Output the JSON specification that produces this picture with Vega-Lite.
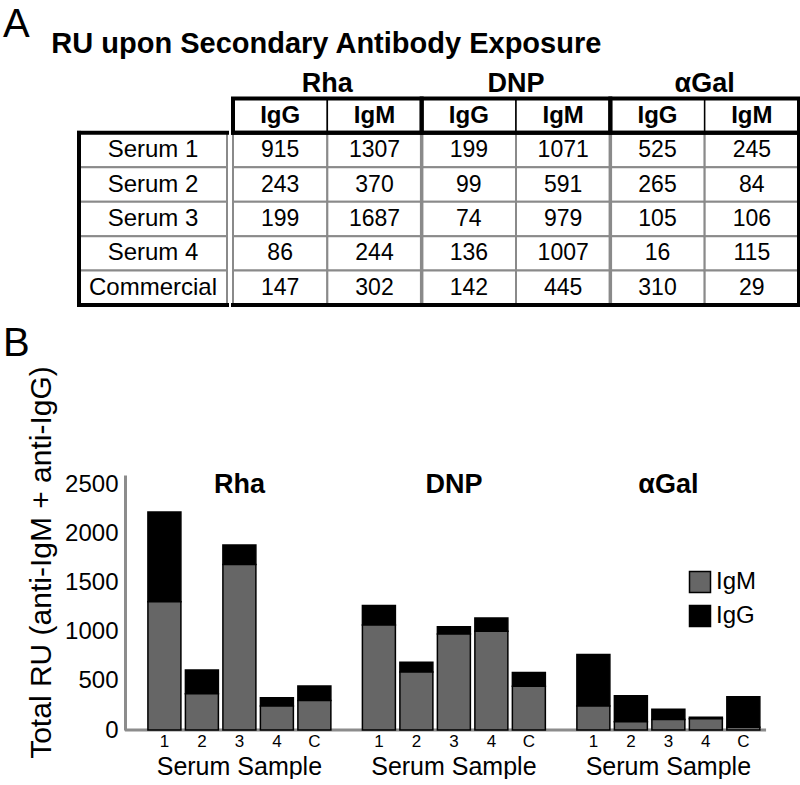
{
  "$schema": "https://vega.github.io/schema/vega-lite/v6.json",
  "padding": {"left": 3, "top": 5, "right": 0, "bottom": 0},
  "config": {"font": "Liberation Sans", "view": {"stroke": null}},
  "datasets": {
    "ru": [
      {"antigen": "Rha", "iso": "IgG", "col": "Rha IgG", "serum": "Serum 1", "short": "1", "value": 915},
      {"antigen": "Rha", "iso": "IgG", "col": "Rha IgG", "serum": "Serum 2", "short": "2", "value": 243},
      {"antigen": "Rha", "iso": "IgG", "col": "Rha IgG", "serum": "Serum 3", "short": "3", "value": 199},
      {"antigen": "Rha", "iso": "IgG", "col": "Rha IgG", "serum": "Serum 4", "short": "4", "value": 86},
      {"antigen": "Rha", "iso": "IgG", "col": "Rha IgG", "serum": "Commercial", "short": "C", "value": 147},
      {"antigen": "Rha", "iso": "IgM", "col": "Rha IgM", "serum": "Serum 1", "short": "1", "value": 1307},
      {"antigen": "Rha", "iso": "IgM", "col": "Rha IgM", "serum": "Serum 2", "short": "2", "value": 370},
      {"antigen": "Rha", "iso": "IgM", "col": "Rha IgM", "serum": "Serum 3", "short": "3", "value": 1687},
      {"antigen": "Rha", "iso": "IgM", "col": "Rha IgM", "serum": "Serum 4", "short": "4", "value": 244},
      {"antigen": "Rha", "iso": "IgM", "col": "Rha IgM", "serum": "Commercial", "short": "C", "value": 302},
      {"antigen": "DNP", "iso": "IgG", "col": "DNP IgG", "serum": "Serum 1", "short": "1", "value": 199},
      {"antigen": "DNP", "iso": "IgG", "col": "DNP IgG", "serum": "Serum 2", "short": "2", "value": 99},
      {"antigen": "DNP", "iso": "IgG", "col": "DNP IgG", "serum": "Serum 3", "short": "3", "value": 74},
      {"antigen": "DNP", "iso": "IgG", "col": "DNP IgG", "serum": "Serum 4", "short": "4", "value": 136},
      {"antigen": "DNP", "iso": "IgG", "col": "DNP IgG", "serum": "Commercial", "short": "C", "value": 142},
      {"antigen": "DNP", "iso": "IgM", "col": "DNP IgM", "serum": "Serum 1", "short": "1", "value": 1071},
      {"antigen": "DNP", "iso": "IgM", "col": "DNP IgM", "serum": "Serum 2", "short": "2", "value": 591},
      {"antigen": "DNP", "iso": "IgM", "col": "DNP IgM", "serum": "Serum 3", "short": "3", "value": 979},
      {"antigen": "DNP", "iso": "IgM", "col": "DNP IgM", "serum": "Serum 4", "short": "4", "value": 1007},
      {"antigen": "DNP", "iso": "IgM", "col": "DNP IgM", "serum": "Commercial", "short": "C", "value": 445},
      {"antigen": "αGal", "iso": "IgG", "col": "αGal IgG", "serum": "Serum 1", "short": "1", "value": 525},
      {"antigen": "αGal", "iso": "IgG", "col": "αGal IgG", "serum": "Serum 2", "short": "2", "value": 265},
      {"antigen": "αGal", "iso": "IgG", "col": "αGal IgG", "serum": "Serum 3", "short": "3", "value": 105},
      {"antigen": "αGal", "iso": "IgG", "col": "αGal IgG", "serum": "Serum 4", "short": "4", "value": 16},
      {"antigen": "αGal", "iso": "IgG", "col": "αGal IgG", "serum": "Commercial", "short": "C", "value": 310},
      {"antigen": "αGal", "iso": "IgM", "col": "αGal IgM", "serum": "Serum 1", "short": "1", "value": 245},
      {"antigen": "αGal", "iso": "IgM", "col": "αGal IgM", "serum": "Serum 2", "short": "2", "value": 84},
      {"antigen": "αGal", "iso": "IgM", "col": "αGal IgM", "serum": "Serum 3", "short": "3", "value": 106},
      {"antigen": "αGal", "iso": "IgM", "col": "αGal IgM", "serum": "Serum 4", "short": "4", "value": 115},
      {"antigen": "αGal", "iso": "IgM", "col": "αGal IgM", "serum": "Commercial", "short": "C", "value": 29}
    ],
    "one": [{"k": 1}]
  },
  "resolve": {"scale": {"x": "independent", "y": "independent", "color": "independent"}},
  "spacing": 15,
  "vconcat": [
    {
      "title": {
        "text": "A",
        "subtitle": "\u200b\u00a0\u00a0\u00a0\u00a0\u00a0\u00a0RU upon Secondary Antibody Exposure",
        "anchor": "start", "frame": "group", "dx": -76,
        "fontSize": 40, "fontWeight": "normal", "color": "black",
        "subtitleFontSize": 29, "subtitleFontWeight": "bold", "subtitleColor": "black",
        "subtitlePadding": -15, "offset": 5
      },
      "spacing": 0,
      "resolve": {"scale": {"x": "independent", "y": "independent"}},
      "hconcat": [
        {
          "width": 148, "height": 241,
          "data": {"name": "ru"},
          "layer": [
            {
              "transform": [{"filter": "datum.col === 'Rha IgG'"}],
              "mark": {"type": "rect", "fill": "white", "stroke": "#8a8a8a", "strokeWidth": 2},
              "encoding": {
                "x": {"datum": "L", "type": "nominal", "scale": {"paddingInner": 0, "paddingOuter": 0}, "axis": null},
                "y": {"field": "serum", "type": "nominal", "scale": {"domain": ["grp", "sub", "Serum 1", "Serum 2", "Serum 3", "Serum 4", "Commercial"], "paddingInner": 0, "paddingOuter": 0}, "axis": null}
              }
            },
            {
              "data": {"name": "one"},
              "mark": {"type": "rule", "color": "black", "strokeWidth": 4, "strokeCap": "square"},
              "encoding": {"y": {"datum": "Serum 1", "type": "nominal", "bandPosition": 0}}
            },
            {
              "data": {"name": "one"},
              "mark": {"type": "rule", "color": "black", "strokeWidth": 4, "strokeCap": "square"},
              "encoding": {"y": {"datum": "Commercial", "type": "nominal", "bandPosition": 1}}
            },
            {
              "data": {"name": "one"},
              "mark": {"type": "rule", "color": "black", "strokeWidth": 4, "strokeCap": "square"},
              "encoding": {
                "x": {"datum": "L", "type": "nominal", "bandPosition": 0},
                "y": {"datum": "Serum 1", "type": "nominal", "bandPosition": 0},
                "y2": {"datum": "Commercial", "bandPosition": 1}
              }
            },
            {
              "transform": [{"filter": "datum.col === 'Rha IgG'"}],
              "mark": {"type": "text", "fontSize": 24, "baseline": "middle", "color": "black"},
              "encoding": {
                "x": {"datum": "L", "type": "nominal"},
                "y": {"field": "serum", "type": "nominal"},
                "text": {"field": "serum"}
              }
            }
          ]
        },
        {
          "width": 566, "height": 241,
          "data": {"name": "ru"},
          "layer": [
            {
              "mark": {"type": "rect", "fill": "white", "stroke": "#8a8a8a", "strokeWidth": 2},
              "encoding": {
                "x": {"field": "col", "type": "nominal", "scale": {"domain": ["Rha IgG", "Rha IgM", "DNP IgG", "DNP IgM", "αGal IgG", "αGal IgM"], "paddingInner": 0, "paddingOuter": 0}, "axis": null},
                "y": {"field": "serum", "type": "nominal", "scale": {"domain": ["grp", "sub", "Serum 1", "Serum 2", "Serum 3", "Serum 4", "Commercial"], "paddingInner": 0, "paddingOuter": 0}, "axis": null}
              }
            },
            {
              "transform": [{"filter": "datum.serum === 'Serum 1'"}],
              "mark": {"type": "rect", "fill": "white", "stroke": "black", "strokeWidth": 1.5},
              "encoding": {
                "x": {"field": "col", "type": "nominal"},
                "y": {"datum": "sub", "type": "nominal"}
              }
            },
            {
              "transform": [{"filter": "datum.serum === 'Serum 1' && datum.iso === 'IgG' && datum.antigen !== 'Rha'"}],
              "mark": {"type": "rule", "color": "#8a8a8a", "strokeWidth": 3.5},
              "encoding": {
                "x": {"field": "col", "type": "nominal", "bandPosition": 0},
                "y": {"datum": "Serum 1", "type": "nominal", "bandPosition": 0},
                "y2": {"datum": "Commercial", "bandPosition": 1}
              }
            },
            {
              "transform": [{"filter": "datum.serum === 'Serum 1' && datum.iso === 'IgG'"}],
              "mark": {"type": "rect", "fillOpacity": 0, "stroke": "black", "strokeWidth": 4},
              "encoding": {
                "x": {"field": "col", "type": "nominal", "bandPosition": 0},
                "x2": {"field": "col", "bandPosition": 2},
                "y": {"datum": "sub", "type": "nominal"}
              }
            },
            {
              "data": {"name": "one"},
              "mark": {"type": "rule", "color": "black", "strokeWidth": 4, "strokeCap": "square"},
              "encoding": {"y": {"datum": "Serum 1", "type": "nominal", "bandPosition": 0}}
            },
            {
              "data": {"name": "one"},
              "mark": {"type": "rule", "color": "black", "strokeWidth": 4, "strokeCap": "square"},
              "encoding": {"y": {"datum": "Commercial", "type": "nominal", "bandPosition": 1}}
            },
            {
              "data": {"name": "one"},
              "mark": {"type": "rule", "color": "black", "strokeWidth": 4, "strokeCap": "square"},
              "encoding": {
                "x": {"datum": "αGal IgM", "type": "nominal", "bandPosition": 1},
                "y": {"datum": "Serum 1", "type": "nominal", "bandPosition": 0},
                "y2": {"datum": "Commercial", "bandPosition": 1}
              }
            },
            {
              "transform": [{"filter": "datum.serum === 'Serum 1' && datum.iso === 'IgG'"}],
              "mark": {"type": "text", "fontSize": 27, "fontWeight": "bold", "baseline": "middle", "dy": 3, "color": "black"},
              "encoding": {
                "x": {"field": "col", "type": "nominal", "bandPosition": 1},
                "y": {"datum": "grp", "type": "nominal"},
                "text": {"field": "antigen"}
              }
            },
            {
              "transform": [{"filter": "datum.serum === 'Serum 1'"}],
              "mark": {"type": "text", "fontSize": 24, "fontWeight": "bold", "baseline": "middle", "color": "black"},
              "encoding": {
                "x": {"field": "col", "type": "nominal"},
                "y": {"datum": "sub", "type": "nominal"},
                "text": {"field": "iso"}
              }
            },
            {
              "mark": {"type": "text", "fontSize": 23, "baseline": "middle", "color": "black"},
              "encoding": {
                "x": {"field": "col", "type": "nominal"},
                "y": {"field": "serum", "type": "nominal"},
                "text": {"field": "value", "type": "quantitative"}
              }
            }
          ]
        }
      ]
    },
    {
      "width": 687, "height": 255,
      "title": {"text": "B", "anchor": "start", "frame": "group", "dx": -76, "fontSize": 40, "fontWeight": "normal", "color": "black", "offset": 2},
      "data": {"name": "ru"},
      "encoding": {
        "x": {
          "field": "antigen", "type": "nominal", "sort": ["Rha", "DNP", "αGal"],
          "scale": {"paddingInner": 0.147, "paddingOuter": 0.175, "align": 0.918},
          "axis": {"title": null, "labelExpr": "'Serum Sample'", "ticks": false, "domain": false, "labelFontSize": 25, "labelPadding": 24, "labelColor": "black", "labelAngle": 0}
        }
      },
      "layer": [
        {
          "data": {"name": "one"},
          "mark": {"type": "rule", "color": "#8c8c8c", "strokeWidth": 3},
          "encoding": {
            "x": {"datum": "Rha", "type": "nominal", "bandPosition": -0.126},
            "x2": {"datum": "αGal", "bandPosition": 1.034},
            "y": {"datum": 0, "type": "quantitative"}
          }
        },
        {
          "mark": {"type": "bar", "stroke": "black", "strokeWidth": 1.5},
          "encoding": {
            "xOffset": {"field": "short", "type": "nominal", "sort": ["1", "2", "3", "4", "C"], "scale": {"paddingInner": 0.12, "paddingOuter": 0}},
            "y": {
              "field": "value", "type": "quantitative", "stack": "zero",
              "scale": {"domain": [0, 2500]},
              "axis": {"title": "Total RU (anti-IgM + anti-IgG)", "offset": -46, "titleFontSize": 30, "titleFontWeight": "normal", "titleColor": "black", "titleX": -75, "titleY": 87, "titleBaseline": "alphabetic", "values": [0, 500, 1000, 1500, 2000, 2500], "format": "d", "ticks": false, "grid": false, "labelFontSize": 24, "labelPadding": 7, "labelColor": "black", "domainColor": "#8c8c8c", "domainWidth": 3}
            },
            "color": {
              "field": "iso", "type": "nominal",
              "scale": {"domain": ["IgM", "IgG"], "range": ["#666666", "#000000"]},
              "legend": {"title": null, "orient": "none", "legendX": 609, "legendY": 95, "symbolType": "square", "symbolSize": 441, "symbolStrokeColor": "black", "symbolStrokeWidth": 1.5, "symbolOpacity": 1, "labelFontSize": 24, "labelColor": "black", "rowPadding": 6, "labelOffset": 4}
            },
            "order": {"field": "iso", "sort": "descending"}
          }
        },
        {
          "transform": [{"filter": "datum.iso === 'IgG'"}],
          "mark": {"type": "text", "baseline": "top", "dy": 4, "fontSize": 17, "color": "black"},
          "encoding": {
            "xOffset": {"field": "short", "type": "nominal", "sort": ["1", "2", "3", "4", "C"]},
            "y": {"datum": 0},
            "text": {"field": "short"}
          }
        },
        {
          "transform": [{"filter": "datum.iso === 'IgG' && datum.short === '1'"}],
          "mark": {"type": "text", "baseline": "middle", "fontSize": 27, "fontWeight": "bold", "color": "black"},
          "encoding": {
            "y": {"datum": 2500},
            "text": {"field": "antigen"}
          }
        }
      ]
    }
  ]
}
